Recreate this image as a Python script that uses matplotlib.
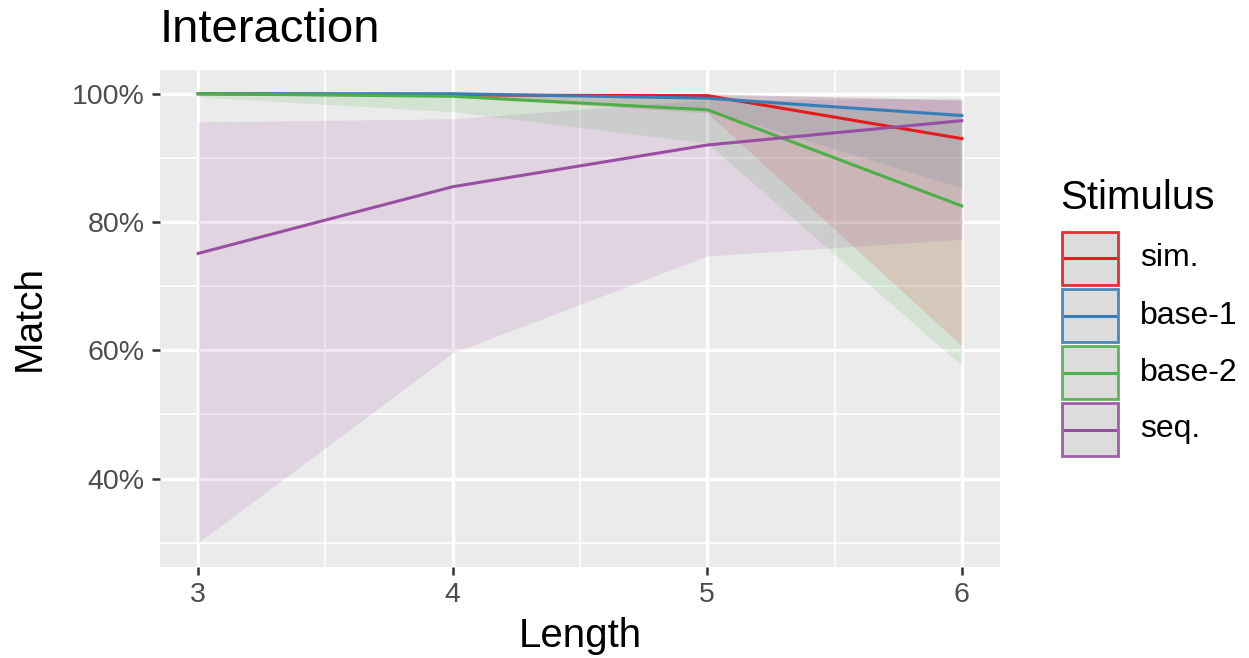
import matplotlib
matplotlib.use("Agg")
import matplotlib.pyplot as plt
from matplotlib.patches import Rectangle
from matplotlib.lines import Line2D
from matplotlib.ticker import FuncFormatter, FixedLocator

plt.rcParams['font.family'] = ['Liberation Sans', 'DejaVu Sans']

lengths = [3, 4, 5, 6]
stimuli = ["sim.", "base-1", "base-2", "seq."]
colors = ["#E41A1C", "#377EB8", "#4DAF4A", "#984EA3"]

sim_mean = [100.0, 99.8, 99.7, 93.0]
sim_low = [99.8, 99.5, 97.0, 60.7]
sim_high = [100.0, 100.0, 100.0, 99.0]

base1_mean = [100.0, 100.0, 99.3, 96.6]
base1_low = [99.9, 99.7, 97.5, 85.3]
base1_high = [100.0, 100.0, 100.0, 99.0]

base2_mean = [100.0, 99.6, 97.5, 82.5]
base2_low = [99.5, 97.2, 92.3, 57.6]
base2_high = [100.0, 100.0, 99.5, 97.0]

seq_mean = [75.1, 85.5, 92.0, 95.8]
seq_low = [30.0, 59.6, 74.7, 77.3]
seq_high = [95.6, 96.1, 99.0, 99.3]

means = [sim_mean, base1_mean, base2_mean, seq_mean]
lows = [sim_low, base1_low, base2_low, seq_low]
highs = [sim_high, base1_high, base2_high, seq_high]

W, H = 1249, 658
fig = plt.figure(figsize=(W / 100, H / 100), dpi=100)
ax = fig.add_axes([160 / W, 1 - 567 / H, 840 / W, 497 / H])
ax.set_facecolor("#EBEBEB")

for lo, hi, c in zip(lows, highs, colors):
    ax.fill_between(lengths, lo, hi, color=c, alpha=0.14, linewidth=0, zorder=2)
for m, c in zip(means, colors):
    ax.plot(lengths, m, color=c, linewidth=2.2, zorder=3)

ax.set_xlim(2.85, 6.15)
ax.set_ylim(26.2, 103.7)
ax.set_xticks(lengths)
ax.set_yticks([40, 60, 80, 100])
ax.xaxis.set_minor_locator(FixedLocator([3.5, 4.5, 5.5]))
ax.yaxis.set_minor_locator(FixedLocator([30, 50, 70, 90]))
ax.yaxis.set_major_formatter(FuncFormatter(lambda v, p: f"{int(v)}%"))
ax.grid(which="major", color="white", linewidth=2.4, zorder=0)
ax.grid(which="minor", color="white", linewidth=1.2, zorder=0)
ax.set_axisbelow(True)
for s in ax.spines.values():
    s.set_visible(False)
ax.tick_params(which="major", length=6, width=1.8, color="#333333",
               labelsize=20.5, labelcolor="#4D4D4D", pad=5)
ax.tick_params(which="minor", length=0)

fig.text(580 / W, 1 - 636 / H, "Length", fontsize=29, color="black",
         ha="center", va="center")
fig.text(30 / W, 1 - 318 / H, "Match", fontsize=28, color="black",
         ha="center", va="center", rotation=90)
fig.text(160 / W, 1 - 30 / H, "Interaction", fontsize=34, color="black",
         ha="left", va="center")

# legend
fig.text(1060 / W, 1 - 198 / H, "Stimulus", fontsize=29, color="black",
         ha="left", va="center")
key_tops = [232, 289, 346, 403]
for name, c, top in zip(stimuli, colors, key_tops):
    x0, y0, kw, kh = 1062, top, 56, 53
    fig.add_artist(Rectangle((x0 / W, 1 - (y0 + kh) / H), kw / W, kh / H,
                             transform=fig.transFigure, facecolor="#D9D9D9",
                             edgecolor=c, linewidth=2.0, alpha=0.9))
    ym = 1 - (y0 + kh / 2) / H
    fig.add_artist(Line2D([(x0 + 3) / W, (x0 + kw - 3) / W], [ym, ym],
                          transform=fig.transFigure, color=c, linewidth=2.2))
    fig.text(1140 / W, ym, name, fontsize=23, color="black",
             ha="left", va="center")

fig.savefig("out.png", dpi=100)
